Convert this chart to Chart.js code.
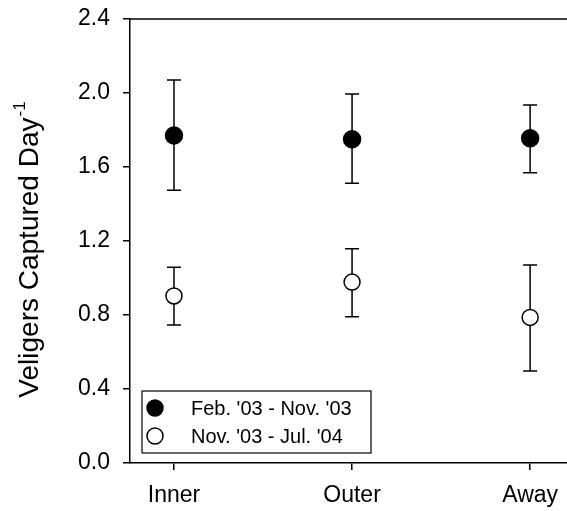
<!DOCTYPE html>
<html>
<head>
<meta charset="utf-8">
<script src="https://cdn.jsdelivr.net/npm/chart.js@4.4.1/dist/chart.umd.min.js"></script>
<style>
  html, body { margin: 0; padding: 0; background: #fff; }
  #wrap { width: 567px; height: 511px; position: relative; }
</style>
</head>
<body>
<div id="wrap"><canvas id="c" width="567" height="511"></canvas></div>
<script>
// ---- data ----
const sites = ["Inner", "Outer", "Away"];
const yTicks = [0.0, 0.4, 0.8, 1.2, 1.6, 2.0, 2.4];

const period1Label = "Feb. '03 - Nov. '03";
const period1Mean  = [1.77, 1.75, 1.755];
const period1Upper = [2.07, 1.995, 1.935];
const period1Lower = [1.475, 1.512, 1.569];

const period2Label = "Nov. '03 - Jul. '04";
const period2Mean  = [0.903, 0.978, 0.787];
const period2Upper = [1.058, 1.158, 1.070];
const period2Lower = [0.746, 0.791, 0.497];

const FONT = "'Liberation Sans', Arial, sans-serif";

function pts(means) { return means.map((v, i) => ({ x: i, y: v })); }

// error bars (vertical line + caps) drawn under the markers
const errorBars = {
  id: "errorBars",
  beforeDatasetsDraw(chart) {
    const { ctx, scales: { x, y } } = chart;
    const sets = [[period1Upper, period1Lower], [period2Upper, period2Lower]];
    ctx.save();
    ctx.strokeStyle = "#000";
    ctx.lineWidth = 1.5;
    sets.forEach(([hi, lo]) => {
      hi.forEach((h, i) => {
        const px = x.getPixelForValue(i);
        const yh = y.getPixelForValue(h), yl = y.getPixelForValue(lo[i]);
        ctx.beginPath();
        ctx.moveTo(px, yh); ctx.lineTo(px, yl);
        ctx.moveTo(px - 7, yh); ctx.lineTo(px + 7, yh);
        ctx.moveTo(px - 7, yl); ctx.lineTo(px + 7, yl);
        ctx.stroke();
      });
    });
    ctx.restore();
  }
};

// top frame line, y title with superscript, boxed legend
const decor = {
  id: "decor",
  afterDraw(chart) {
    const { ctx, chartArea: ca } = chart;
    ctx.save();
    ctx.strokeStyle = "#000";
    ctx.lineWidth = 1.5;
    ctx.beginPath();
    ctx.moveTo(ca.left, ca.top); ctx.lineTo(chart.width, ca.top);
    ctx.stroke();

    // y title
    ctx.fillStyle = "#000";
    ctx.translate(38, 250);
    ctx.rotate(-Math.PI / 2);
    ctx.font = "28px " + FONT;
    const main = "Veligers Captured Day";
    const wMain = ctx.measureText(main).width;
    ctx.font = "17px " + FONT;
    const sup = "-1";
    const wSup = ctx.measureText(sup).width;
    const x0 = -(wMain + wSup) / 2;
    ctx.textBaseline = "alphabetic";
    ctx.textAlign = "left";
    ctx.font = "28px " + FONT;
    ctx.fillText(main, x0, 0);
    ctx.font = "17px " + FONT;
    ctx.fillText(sup, x0 + wMain + 1, -13);
    ctx.restore();

    // legend
    ctx.save();
    ctx.strokeStyle = "#000";
    ctx.lineWidth = 1.2;
    ctx.fillStyle = "#fff";
    ctx.fillRect(142, 391, 229, 62);
    ctx.strokeRect(142, 391, 229, 62);
    ctx.font = "20px " + FONT;
    ctx.textBaseline = "middle";
    ctx.textAlign = "left";
    chart.data.datasets.forEach((ds, i) => {
      const cy = 408 + i * 28;
      ctx.beginPath();
      ctx.arc(155, cy, 8, 0, Math.PI * 2);
      ctx.fillStyle = ds.backgroundColor;
      ctx.fill();
      ctx.lineWidth = 1.5;
      ctx.stroke();
      ctx.fillStyle = "#000";
      ctx.fillText(ds.label, 191, cy + 1);
    });
    ctx.restore();
  }
};

new Chart(document.getElementById("c"), {
  type: "scatter",
  data: {
    datasets: [
      {
        label: period1Label,
        data: pts(period1Mean),
        backgroundColor: "#000",
        borderColor: "#000",
        borderWidth: 1.5,
        pointRadius: 8.5,
        pointHoverRadius: 8.5
      },
      {
        label: period2Label,
        data: pts(period2Mean),
        backgroundColor: "#fff",
        borderColor: "#000",
        borderWidth: 1.5,
        pointRadius: 8,
        pointHoverRadius: 8
      }
    ]
  },
  options: {
    responsive: false,
    animation: false,
    layout: { autoPadding: false, padding: { top: 19, right: 0, left: 0, bottom: 0 } },
    plugins: { legend: { display: false }, tooltip: { enabled: false } },
    scales: {
      x: {
        type: "linear",
        min: -0.247,
        max: 2.207,
        afterBuildTicks(scale) { scale.ticks = sites.map((s, i) => ({ value: i })); },
        afterFit(scale) {
          scale.height = 48;
          scale.paddingLeft = 0;
          scale.paddingRight = 0;
        },
        ticks: {
          callback: (v) => sites[v],
          color: "#000",
          font: { family: FONT, size: 23 },
          padding: 12,
          maxRotation: 0,
          autoSkip: false
        },
        grid: { drawOnChartArea: false, drawTicks: true, tickLength: 7, color: "#000", lineWidth: 1.5 },
        border: { display: true, color: "#000", width: 1.5 }
      },
      y: {
        min: 0,
        max: 2.4,
        afterBuildTicks(scale) { scale.ticks = yTicks.map(v => ({ value: v })); },
        afterFit(scale) {
          scale.width = 130;
          scale.paddingTop = 0;
          scale.paddingBottom = 0;
        },
        ticks: {
          callback: (v) => v.toFixed(1),
          color: "#000",
          font: { family: FONT, size: 23 },
          padding: 13
        },
        grid: { drawOnChartArea: false, drawTicks: true, tickLength: 7, color: "#000", lineWidth: 1.5 },
        border: { display: true, color: "#000", width: 1.5 }
      }
    }
  },
  plugins: [errorBars, decor]
});
</script>
</body>
</html>
